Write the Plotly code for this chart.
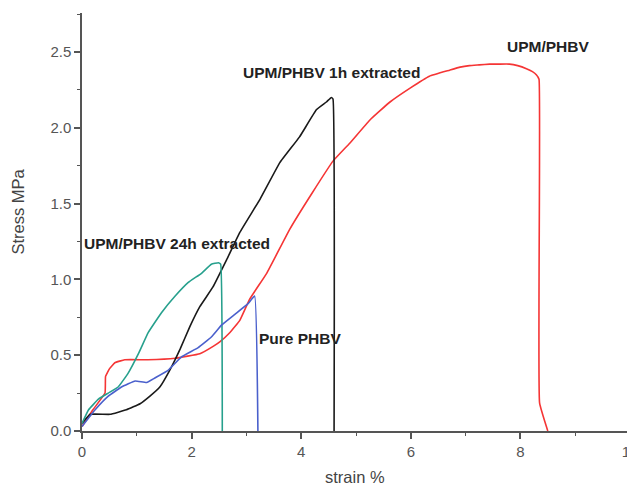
import plotly.graph_objects as go

# UPM/PHBV (red)
upm_x = [0.0, 0.20, 0.42, 0.43, 0.50, 0.60, 0.78, 1.20, 1.70, 2.15, 2.40, 2.52, 2.70, 2.88, 3.06, 3.37, 3.79, 4.20, 4.58, 4.89, 5.25, 5.62, 5.98, 6.34, 6.71, 6.90, 7.07, 7.25, 7.44, 7.60, 7.80, 7.95, 8.11, 8.22, 8.29, 8.34, 8.35, 8.50]
upm_y = [0.03, 0.14, 0.25, 0.36, 0.41, 0.45, 0.47, 0.47, 0.48, 0.51, 0.56, 0.59, 0.65, 0.73, 0.87, 1.04, 1.33, 1.57, 1.78, 1.90, 2.05, 2.17, 2.26, 2.34, 2.38, 2.40, 2.41, 2.415, 2.42, 2.42, 2.42, 2.41, 2.39, 2.37, 2.35, 2.32, 0.185, 0.0]

# UPM/PHBV 1h extracted (black)
h1_x = [0.0, 0.15, 0.51, 0.81, 1.06, 1.24, 1.42, 1.60, 1.79, 1.97, 2.15, 2.39, 2.64, 2.88, 3.25, 3.61, 3.97, 4.28, 4.46, 4.55, 4.58, 4.60]
h1_y = [0.05, 0.11, 0.11, 0.14, 0.18, 0.23, 0.29, 0.40, 0.54, 0.69, 0.82, 0.95, 1.13, 1.31, 1.53, 1.77, 1.94, 2.12, 2.17, 2.20, 2.19, 0.0]

# UPM/PHBV 24h extracted (teal)
h24_x = [0.0, 0.12, 0.30, 0.48, 0.66, 0.84, 1.03, 1.21, 1.45, 1.70, 1.94, 2.18, 2.36, 2.49, 2.53, 2.56]
h24_y = [0.05, 0.14, 0.21, 0.25, 0.29, 0.38, 0.51, 0.65, 0.78, 0.89, 0.98, 1.04, 1.10, 1.11, 1.10, 0.0]

# Pure PHBV (blue)
pure_x = [0.0, 0.24, 0.48, 0.72, 0.97, 1.18, 1.33, 1.57, 1.82, 2.12, 2.36, 2.55, 2.79, 3.03, 3.15, 3.21]
pure_y = [0.03, 0.14, 0.23, 0.29, 0.33, 0.32, 0.35, 0.40, 0.49, 0.55, 0.62, 0.70, 0.77, 0.84, 0.89, 0.0]

labels = ["UPM/PHBV", "UPM/PHBV 1h extracted", "UPM/PHBV 24h extracted", "Pure PHBV"]
label_x = [8.51, 4.56, 1.73, 3.98]
label_y = [2.535, 2.365, 1.235, 0.613]

x_ticks = [0, 2, 4, 6, 8, 10]
y_ticks = [0.0, 0.5, 1.0, 1.5, 2.0, 2.5]

fig = go.Figure()
series = [
    (upm_x, upm_y, "#f53535", labels[0]),
    (h1_x, h1_y, "#1a1a1a", labels[1]),
    (h24_x, h24_y, "#27a08d", labels[2]),
    (pure_x, pure_y, "#4a60cc", labels[3]),
]
for xs, ys, c, n in series:
    fig.add_trace(go.Scatter(x=xs, y=ys, mode="lines", name=n,
                             line=dict(color=c, width=1.6, shape="spline", smoothing=0.3)))

for t, xx, yy in zip(labels, label_x, label_y):
    fig.add_annotation(x=xx, y=yy, text="<b>%s</b>" % t, showarrow=False,
                       font=dict(family="Liberation Sans, Arial", size=15.5, color="#222"),
                       xanchor="center", yanchor="middle")

title_font = dict(family="Liberation Sans, Arial", size=16.5, color="#444")
fig.add_annotation(x=0.498, y=-0.109, xref="paper", yref="paper", text="strain %",
                   showarrow=False, font=title_font, xanchor="center", yanchor="middle")
fig.add_annotation(x=-0.1167, y=0.525, xref="paper", yref="paper", text="Stress MPa",
                   showarrow=False, font=title_font, xanchor="center", yanchor="middle",
                   textangle=-90)

axis_font = dict(family="Liberation Sans, Arial", size=15, color="#555")
fig.update_layout(
    width=635, height=485,
    margin=dict(l=74, r=12.5, t=5, b=61.7, autoexpand=False),
    paper_bgcolor="white", plot_bgcolor="white",
    showlegend=False,
    font=dict(family="Liberation Sans, Arial"),
)
fig.update_xaxes(
    range=[0, 10], tickvals=x_ticks, ticktext=[str(v) for v in x_ticks],
    automargin=False, ticklabeloverflow="allow",
    showgrid=False, zeroline=False, showline=True, linecolor="#555", linewidth=1.5,
    ticks="outside", ticklen=6, tickwidth=1.5, tickcolor="#555", tickfont=axis_font,
    minor=dict(ticks="outside", ticklen=3, dtick=1, tickcolor="#555", tickwidth=1.2),
)
fig.update_yaxes(
    range=[0, 2.757], tickvals=y_ticks, ticktext=["%.1f" % v for v in y_ticks],
    automargin=False,
    showgrid=False, zeroline=False, showline=True, linecolor="#555", linewidth=1.5,
    ticks="outside", ticklen=6, tickwidth=1.5, tickcolor="#555", tickfont=axis_font,
    minor=dict(ticks="outside", ticklen=3, dtick=0.25, tickcolor="#555", tickwidth=1.2),
)

fig.write_html("out.html")
